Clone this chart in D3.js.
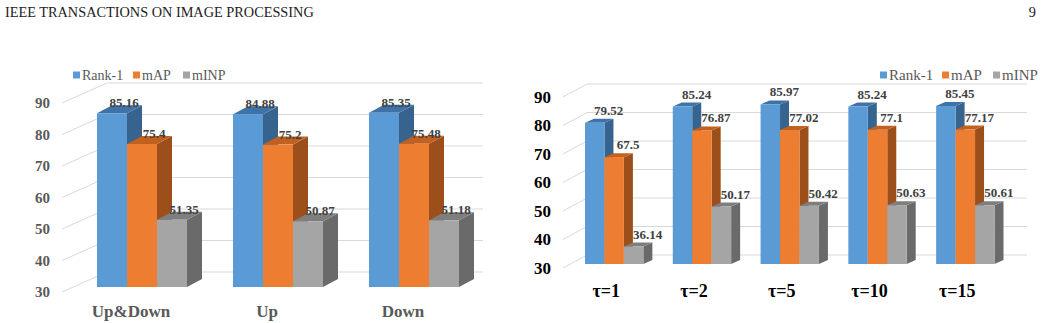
<!DOCTYPE html>
<html>
<head>
<meta charset="utf-8">
<script src="https://cdn.jsdelivr.net/npm/d3@7"></script>
<style>
  body { margin: 0; background: #fff; }
  svg text { font-family: "Liberation Serif", "Times New Roman", "DejaVu Serif", serif; }
</style>
</head>
<body>
<svg width="1042" height="323"></svg>
<script>

// data
var seriesNames = ["Rank-1", "mAP", "mINP"];
var yTicks = [30, 40, 50, 60, 70, 80, 90];

var leftCategories = ["Up&Down", "Up", "Down"];
var leftRank1 = [85.16, 84.88, 85.35];
var leftMAP   = [75.4, 75.2, 75.48];
var leftMINP  = [51.35, 50.87, 51.18];

var rightCategories = ["τ=1", "τ=2", "τ=5", "τ=10", "τ=15"];
var rightRank1 = [79.52, 85.24, 85.97, 85.24, 85.45];
var rightMAP   = [67.5, 76.87, 77.02, 77.1, 77.17];
var rightMINP  = [36.14, 50.17, 50.42, 50.63, 50.61];

// front, top, side colours for each series
var colours = [
  {front: "#5b9bd5", top: "#3f72a6", side: "#37638f"},
  {front: "#ed7d31", top: "#c1601f", side: "#9c4e1b"},
  {front: "#a5a5a5", top: "#7e7e7e", side: "#6a6a6a"}
];

var serif = "'Liberation Serif', 'Times New Roman', 'DejaVu Serif', serif";
var svg = d3.select("svg");

// page header
svg.append("text").attr("x", 5).attr("y", 17)
  .attr("font-family", serif)
  .style("font-size", "14.3px").attr("fill", "#222")
  .text("IEEE TRANSACTIONS ON IMAGE PROCESSING");
svg.append("text").attr("x", 1036).attr("y", 17).attr("text-anchor", "end")
  .attr("font-family", serif)
  .style("font-size", "14.3px").attr("fill", "#222").text("9");

function drawChart(c) {
  var g = svg.append("g").attr("font-family", serif);

  var y = d3.scaleLinear().domain([30, 90]).range([c.y30, c.y90]);

  var x0 = d3.scaleBand().domain(c.categories)
    .range([c.xStart, c.xEnd]).paddingInner(c.pad).paddingOuter(0);
  var x1 = d3.scaleBand().domain(seriesNames).range([0, x0.bandwidth()]);

  // side wall diagonals + back wall lines
  yTicks.forEach(function(t) {
    g.append("line")
      .attr("x1", c.wallX).attr("y1", y(t))
      .attr("x2", c.wallX + c.wallDx).attr("y2", y(t) + c.wallDy)
      .attr("stroke", "#d9d9d9").attr("stroke-width", 1);
    g.append("line")
      .attr("x1", c.wallX + c.wallDx).attr("y1", y(t) + c.wallDy)
      .attr("x2", c.wallEnd).attr("y2", y(t) + c.wallDy)
      .attr("stroke", "#d9d9d9").attr("stroke-width", 1);
  });

  // y labels
  g.selectAll(".ylab").data(yTicks).enter().append("text")
    .attr("x", c.labelX).attr("y", function(d) { return y(d); })
    .attr("dy", "0.35em").attr("text-anchor", "end")
    .style("font-size", c.ySize + "px").style("font-weight", "bold")
    .attr("fill", c.yColour)
    .text(function(d) { return d; });

  var w = x1.bandwidth(), dx = c.barDx, dy = c.barDy;
  var base = y(30) + c.barShift;

  c.categories.forEach(function(cat, i) {
    c.series.forEach(function(vals, s) {
      var v = vals[i];
      var xl = x0(cat) + x1(seriesNames[s]);
      var yt = y(v) + c.barShift;
      var col = colours[s];
      // right side face
      g.append("path")
        .attr("d", "M" + (xl + w) + "," + yt + "L" + (xl + w + dx) + "," + (yt + dy) +
          "L" + (xl + w + dx) + "," + (base + dy) + "L" + (xl + w) + "," + base + "Z")
        .attr("fill", col.side);
      // top face
      g.append("path")
        .attr("d", "M" + xl + "," + yt + "L" + (xl + w) + "," + yt +
          "L" + (xl + w + dx) + "," + (yt + dy) + "L" + (xl + dx) + "," + (yt + dy) + "Z")
        .attr("fill", col.top);
      // front face
      g.append("rect")
        .attr("x", xl).attr("y", yt).attr("width", w).attr("height", base - yt)
        .attr("fill", col.front);
    });
  });

  // value labels drawn last so bars don't hide them
  c.categories.forEach(function(cat, i) {
    c.series.forEach(function(vals, s) {
      var v = vals[i];
      var xl = x0(cat) + x1(seriesNames[s]);
      g.append("text")
        .attr("x", xl + w / 2 + c.valDx)
        .attr("y", y(v) + c.barShift + dy + c.valDy)
        .attr("text-anchor", "middle")
        .style("font-size", "13px").style("font-weight", "bold")
        .attr("fill", "#404040")
        .text(v);
    });
  });

  // category labels
  g.selectAll(".cat").data(c.categories).enter().append("text")
    .attr("x", function(d) { return x0(d) + x0.bandwidth() / 2 + c.catDx; })
    .attr("y", c.catY).attr("text-anchor", "middle")
    .style("font-size", c.catSize + "px").style("font-weight", "bold")
    .attr("fill", c.catColour)
    .text(function(d) { return d; });

  // legend
  seriesNames.forEach(function(n, s) {
    var lx = c.legendX[s];
    g.append("rect").attr("x", lx).attr("y", c.legendY - 3.5)
      .attr("width", 7).attr("height", 7).attr("fill", colours[s].front);
    g.append("text").attr("x", lx + 9).attr("y", c.legendY).attr("dy", "0.35em")
      .style("font-size", c.legendSize + "px").attr("fill", "#595959").text(n);
  });
}

drawChart({
  categories: leftCategories,
  series: [leftRank1, leftMAP, leftMINP],
  y30: 292, y90: 103,
  xStart: 97, xEnd: 459, pad: 46 / 136,
  wallX: 62, wallDx: 45, wallDy: -20, wallEnd: 483,
  labelX: 50, ySize: 15, yColour: "#595959",
  barShift: -5, barDx: 15, barDy: -8,
  valDx: 12, valDy: 2,
  catDx: -11, catY: 317, catSize: 17, catColour: "#595959",
  legendX: [73, 133, 183], legendY: 75, legendSize: 14
});

drawChart({
  categories: rightCategories,
  series: [rightRank1, rightMAP, rightMINP],
  y30: 268, y90: 97,
  xStart: 585, xEnd: 994.5, pad: 29.5 / 88,
  wallX: 563, wallDx: 24, wallDy: -13, wallEnd: 1027,
  labelX: 551, ySize: 17, yColour: "#000",
  barShift: -4, barDx: 9, barDy: -4,
  valDx: 14, valDy: -4,
  catDx: -8, catY: 297, catSize: 18, catColour: "#000",
  legendX: [880, 942, 993], legendY: 75, legendSize: 15
});

</script>
</body>
</html>
